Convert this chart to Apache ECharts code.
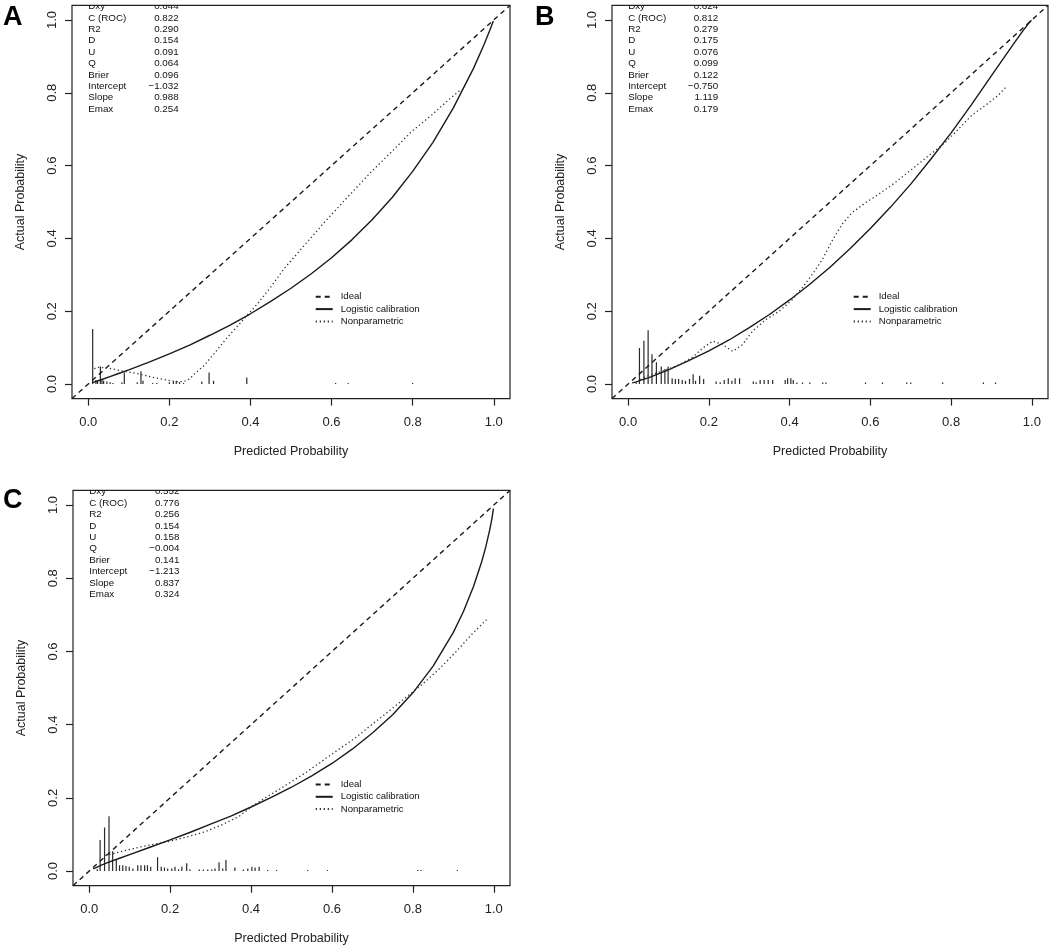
<!DOCTYPE html>
<html>
<head>
<meta charset="utf-8">
<script src="https://cdn.jsdelivr.net/npm/echarts@6/dist/echarts.min.js"></script>
<style>html,body{margin:0;padding:0;background:#fff}#c{width:1050px;height:948px}</style>
</head>
<body>
<div id="c"></div>
<script>
// ---------------- data ----------------
const panelLetters = ['A', 'B', 'C'];
const xTicks = [0, 0.2, 0.4, 0.6, 0.8, 1.0];
const yTicks = [0, 0.2, 0.4, 0.6, 0.8, 1.0];
const legendNames = ['Ideal', 'Logistic calibration', 'Nonparametric'];
const statNames = ['Dxy', 'C (ROC)', 'R2', 'D', 'U', 'Q', 'Brier', 'Intercept', 'Slope', 'Emax'];
const statsA = ['0.644', '0.822', '0.290', '0.154', '0.091', '0.064', '0.096', '\u22121.032', '0.988', '0.254'];
const statsB = ['0.624', '0.812', '0.279', '0.175', '0.076', '0.099', '0.122', '\u22120.750', '1.119', '0.179'];
const statsC = ['0.552', '0.776', '0.256', '0.154', '0.158', '\u22120.004', '0.141', '\u22121.213', '0.837', '0.324'];

const idealLine = [[-0.04, -0.04], [1.04, 1.04]];

const logisticA = [[0.01,0.004],[0.03,0.011],[0.05,0.019],[0.075,0.029],[0.1,0.039],[0.15,0.060],[0.2,0.083],[0.25,0.107],[0.3,0.134],[0.35,0.162],[0.4,0.193],[0.45,0.227],[0.5,0.263],[0.55,0.303],[0.6,0.347],[0.65,0.396],[0.7,0.451],[0.75,0.513],[0.8,0.584],[0.85,0.664],[0.9,0.758],[0.95,0.867],[0.975,0.930],[0.99,0.971],[0.999,0.997]];
const logisticB = [[0.01,0.003],[0.02,0.006],[0.03,0.010],[0.05,0.017],[0.075,0.028],[0.1,0.039],[0.15,0.064],[0.2,0.091],[0.25,0.121],[0.3,0.155],[0.35,0.191],[0.4,0.231],[0.45,0.274],[0.5,0.321],[0.55,0.372],[0.6,0.427],[0.65,0.486],[0.7,0.549],[0.75,0.618],[0.8,0.690],[0.85,0.767],[0.9,0.847],[0.95,0.927],[0.975,0.966],[0.99,0.988],[0.999,0.999]];
const logisticC = [[0.01,0.006],[0.02,0.011],[0.03,0.016],[0.05,0.025],[0.075,0.035],[0.1,0.045],[0.15,0.065],[0.2,0.085],[0.25,0.106],[0.3,0.128],[0.35,0.150],[0.4,0.175],[0.45,0.201],[0.5,0.229],[0.55,0.260],[0.6,0.294],[0.65,0.333],[0.7,0.377],[0.75,0.427],[0.8,0.487],[0.85,0.560],[0.9,0.652],[0.925,0.709],[0.95,0.778],[0.97,0.845],[0.98,0.885],[0.99,0.933],[0.995,0.961],[0.999,0.990]];

const nonparA = [[0.015,0.042],[0.021,0.046],[0.05,0.044],[0.079,0.037],[0.12,0.029],[0.161,0.018],[0.202,0.009],[0.222,0.006],[0.236,0.007],[0.25,0.014],[0.26,0.026],[0.285,0.050],[0.31,0.083],[0.343,0.128],[0.384,0.179],[0.417,0.220],[0.45,0.266],[0.483,0.317],[0.533,0.381],[0.583,0.445],[0.64,0.514],[0.698,0.583],[0.748,0.638],[0.797,0.693],[0.847,0.739],[0.888,0.780],[0.917,0.807]];
const nonparB = [[0.03,0.012],[0.045,0.021],[0.086,0.036],[0.127,0.053],[0.16,0.074],[0.185,0.099],[0.21,0.118],[0.234,0.108],[0.259,0.090],[0.283,0.108],[0.308,0.145],[0.341,0.177],[0.374,0.200],[0.407,0.232],[0.431,0.264],[0.456,0.301],[0.481,0.342],[0.505,0.393],[0.53,0.439],[0.555,0.471],[0.588,0.498],[0.62,0.521],[0.661,0.553],[0.703,0.590],[0.744,0.627],[0.785,0.663],[0.818,0.700],[0.85,0.737],[0.883,0.764],[0.916,0.792],[0.937,0.817]];
const nonparC = [[0.04,0.043],[0.049,0.045],[0.082,0.054],[0.123,0.065],[0.164,0.074],[0.205,0.083],[0.247,0.095],[0.288,0.108],[0.329,0.127],[0.37,0.149],[0.403,0.177],[0.435,0.200],[0.468,0.222],[0.501,0.245],[0.534,0.268],[0.575,0.300],[0.616,0.332],[0.657,0.363],[0.698,0.400],[0.74,0.436],[0.781,0.473],[0.822,0.509],[0.863,0.550],[0.904,0.596],[0.945,0.646],[0.982,0.687]];

// spike histogram of predicted risks: [predicted, spike height]
const spikesA = [[0.011,0.151],[0.019,0.011],[0.023,0.009],[0.030,0.048],[0.034,0.011],[0.038,0.009],[0.046,0.007],[0.054,0.005],[0.061,0.003],[0.083,0.005],[0.089,0.032],[0.121,0.005],[0.130,0.035],[0.135,0.009],[0.159,0.003],[0.169,0.003],[0.200,0.005],[0.210,0.007],[0.217,0.009],[0.225,0.005],[0.235,0.003],[0.280,0.007],[0.298,0.032],[0.309,0.009],[0.391,0.018],[0.610,0.003],[0.641,0.003],[0.800,0.003]];
const spikesB = [[0.020,0.004],[0.028,0.099],[0.039,0.119],[0.0495,0.148],[0.059,0.082],[0.070,0.060],[0.082,0.048],[0.091,0.041],[0.099,0.048],[0.109,0.016],[0.117,0.014],[0.125,0.014],[0.134,0.011],[0.142,0.009],[0.152,0.014],[0.161,0.027],[0.167,0.009],[0.177,0.023],[0.187,0.014],[0.218,0.007],[0.228,0.005],[0.238,0.011],[0.248,0.016],[0.257,0.009],[0.265,0.016],[0.276,0.016],[0.310,0.007],[0.317,0.005],[0.327,0.011],[0.337,0.011],[0.347,0.011],[0.358,0.011],[0.389,0.011],[0.395,0.016],[0.403,0.016],[0.409,0.011],[0.418,0.004],[0.432,0.004],[0.450,0.004],[0.482,0.004],[0.490,0.004],[0.588,0.004],[0.630,0.004],[0.690,0.004],[0.700,0.004],[0.779,0.004],[0.880,0.004],[0.910,0.004]];
const spikesC = [[0.020,0.005],[0.027,0.085],[0.038,0.119],[0.049,0.150],[0.058,0.054],[0.067,0.032],[0.075,0.016],[0.083,0.016],[0.091,0.014],[0.099,0.012],[0.108,0.007],[0.120,0.016],[0.128,0.016],[0.137,0.016],[0.144,0.016],[0.152,0.012],[0.169,0.038],[0.178,0.012],[0.186,0.010],[0.194,0.007],[0.204,0.007],[0.212,0.012],[0.221,0.005],[0.229,0.012],[0.241,0.021],[0.249,0.005],[0.272,0.004],[0.282,0.004],[0.293,0.004],[0.303,0.004],[0.311,0.007],[0.321,0.024],[0.330,0.007],[0.338,0.030],[0.360,0.010],[0.381,0.004],[0.392,0.007],[0.402,0.012],[0.410,0.010],[0.420,0.012],[0.441,0.003],[0.463,0.003],[0.540,0.003],[0.589,0.003],[0.812,0.003],[0.820,0.003],[0.910,0.003]];

// ---------------- layout / style ----------------
const FONT = '"Liberation Sans", Arial, Helvetica, sans-serif';
const INK = '#1a1a1a';
const grids = [
  { left: 72, top: 5.4, width: 438, height: 393.2 },
  { left: 612, top: 5.4, width: 436, height: 393.2 },
  { left: 73, top: 490.4, width: 437, height: 395.3 }
];
const letterPos = [[3, 4], [535, 4], [3, 487]];
const legendPos = [[314.7, 291.8], [852.7, 291.8], [314.7, 779.5]];
const STAT_TOP = 1.037, STAT_STEP = 0.0313, STAT_VALUE_X = 0.223;

const panels = [
  { logistic: logisticA, nonpar: nonparA, spikes: spikesA, stats: statsA },
  { logistic: logisticB, nonpar: nonparB, spikes: spikesB, stats: statsB },
  { logistic: logisticC, nonpar: nonparC, spikes: spikesC, stats: statsC }
];

const series = [];
panels.forEach((p, i) => {
  series.push({
    type: 'custom', name: 'spikes' + i, xAxisIndex: i, yAxisIndex: i, clip: true, silent: true,
    data: p.spikes,
    renderItem: function (params, api) {
      const a = api.coord([api.value(0), 0]);
      const b = api.coord([api.value(0), api.value(1)]);
      return { type: 'line', shape: { x1: a[0], y1: a[1], x2: b[0], y2: b[1] },
               style: { stroke: '#2a2a2a', lineWidth: 1.2 } };
    }
  });
  series.push({
    type: 'line', name: 'Ideal', xAxisIndex: i, yAxisIndex: i, data: idealLine,
    symbol: 'none', showSymbol: false, clip: true, silent: true,
    itemStyle: { color: INK },
    lineStyle: { color: INK, width: 1.4, type: [5, 4] }
  });
  series.push({
    type: 'line', name: 'Logistic calibration', xAxisIndex: i, yAxisIndex: i, data: p.logistic,
    symbol: 'none', showSymbol: false, clip: true, silent: true,
    itemStyle: { color: INK },
    lineStyle: { color: INK, width: 1.4, type: 'solid' }
  });
  series.push({
    type: 'line', name: 'Nonparametric', xAxisIndex: i, yAxisIndex: i, data: p.nonpar,
    symbol: 'none', showSymbol: false, clip: true, silent: true,
    itemStyle: { color: '#333' },
    lineStyle: { color: '#333', width: 1.3, type: [1.3, 2.7] }
  });
  const vals = p.stats;
  series.push({
    type: 'custom', name: 'stats' + i, xAxisIndex: i, yAxisIndex: i, clip: true, silent: true,
    data: statNames.map((n, k) => [0, STAT_TOP - k * STAT_STEP]),
    renderItem: function (params, api) {
      const k = params.dataIndex;
      const y = api.value(1);
      const pl = api.coord([0, y]);
      const pr = api.coord([STAT_VALUE_X, y]);
      return { type: 'group', children: [
        { type: 'text', x: pl[0], y: pl[1], style: { text: statNames[k], fill: '#111', fontSize: 9.8, fontFamily: FONT, align: 'left', verticalAlign: 'middle' } },
        { type: 'text', x: pr[0], y: pr[1], style: { text: vals[k], fill: '#111', fontSize: 9.8, fontFamily: FONT, align: 'right', verticalAlign: 'middle' } }
      ] };
    }
  });
});

const option = {
  animation: false,
  backgroundColor: '#fff',
  title: panelLetters.map((t, i) => ({
    text: t, left: letterPos[i][0], top: letterPos[i][1], padding: 0,
    textStyle: { fontSize: 27, fontWeight: 'bold', color: '#000', fontFamily: FONT }
  })),
  legend: legendPos.map(pos => ({
    orient: 'vertical', left: pos[0], top: pos[1], padding: 0,
    itemWidth: 17, itemHeight: 10, itemGap: 2.3, selectedMode: false,
    data: legendNames,
    itemStyle: { opacity: 0 },
    textStyle: { fontSize: 9.6, color: '#111', fontFamily: FONT, lineHeight: 10, padding: [0, 0, 0, 3] }
  })),
  grid: grids.map(g => Object.assign({ show: true, borderColor: '#222', borderWidth: 1.2, backgroundColor: 'transparent', containLabel: false }, g)),
  xAxis: grids.map((g, i) => ({
    gridIndex: i, type: 'value', min: -0.04, max: 1.04,
    axisLine: { show: false, onZero: false },
    axisTick: { show: true, inside: false, length: 7, lineStyle: { color: '#222', width: 1.2 }, customValues: xTicks },
    axisLabel: { customValues: xTicks, formatter: v => v.toFixed(1), fontSize: 13, color: '#222', fontFamily: FONT, margin: 17.5 },
    splitLine: { show: false },
    name: 'Predicted Probability', nameLocation: 'middle', nameGap: 46,
    nameTextStyle: { fontSize: 12.5, color: '#222', fontFamily: FONT }
  })),
  yAxis: grids.map((g, i) => ({
    gridIndex: i, type: 'value', min: -0.04, max: 1.04,
    axisLine: { show: false, onZero: false },
    axisTick: { show: true, inside: false, length: 7, lineStyle: { color: '#222', width: 1.2 }, customValues: yTicks },
    axisLabel: { customValues: yTicks, formatter: v => v.toFixed(1), fontSize: 13, color: '#222', fontFamily: FONT, margin: 13, rotate: 90 },
    splitLine: { show: false },
    name: 'Actual Probability', nameLocation: 'middle', nameGap: 45,
    nameTextStyle: { fontSize: 12.5, color: '#222', fontFamily: FONT }
  })),
  series: series
};

const chart = echarts.init(document.getElementById('c'), null, { renderer: 'canvas' });
chart.setOption(option);
</script>
</body>
</html>
